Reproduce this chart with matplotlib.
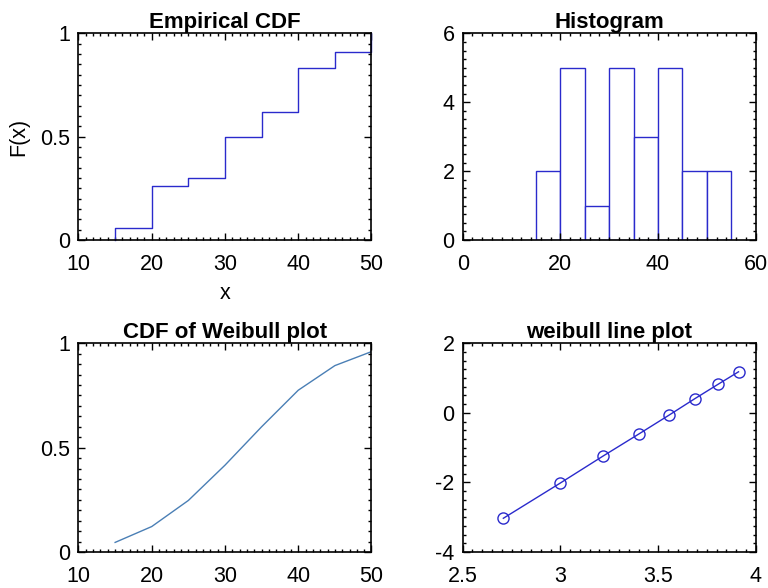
import matplotlib
matplotlib.use("Agg")
import matplotlib.pyplot as plt
from matplotlib.ticker import MultipleLocator

plt.rcParams['font.family'] = ['Liberation Sans', 'DejaVu Sans']
plt.rcParams['axes.unicode_minus'] = False

# Empirical CDF
ecdf_x = [15, 15, 20, 25, 30, 35, 40, 45, 50]
ecdf_F = [0.0, 0.06, 0.26, 0.30, 0.50, 0.62, 0.83, 0.91, 1.0]

# Histogram
hist_edges = [15, 20, 25, 30, 35, 40, 45, 50, 55]
hist_counts = [2, 5, 1, 5, 3, 5, 2, 2]

# CDF of Weibull
wcdf_x = [15, 20, 25, 30, 35, 40, 45, 50]
wcdf_F = [0.046, 0.122, 0.247, 0.416, 0.600, 0.775, 0.893, 0.960]

# Weibull line plot
wl_x = [2.708, 2.996, 3.219, 3.401, 3.555, 3.689, 3.807, 3.912]
wl_y = [-3.03, -2.03, -1.24, -0.61, -0.07, 0.41, 0.82, 1.18]

fig = plt.figure(figsize=(7.68, 5.88), dpi=100)

W = 0.3815
H = 0.3515
ax1 = fig.add_axes([0.1022, 0.5918, W, H])
ax2 = fig.add_axes([0.6025, 0.5918, W, H])
ax3 = fig.add_axes([0.1022, 0.0612, W, H + 0.0035])
ax4 = fig.add_axes([0.6025, 0.0612, W, H + 0.0035])

def style(ax, xmaj, xmin, ymaj, ymin):
    ax.xaxis.set_major_locator(MultipleLocator(xmaj))
    ax.xaxis.set_minor_locator(MultipleLocator(xmin))
    ax.yaxis.set_major_locator(MultipleLocator(ymaj))
    ax.yaxis.set_minor_locator(MultipleLocator(ymin))
    ax.tick_params(which='both', direction='in', top=True, right=True,
                   labelsize=15.5, color='black', width=1.0)
    ax.tick_params(which='major', length=5)
    ax.tick_params(which='minor', length=2.5)
    ax.tick_params(axis='x', which='major', pad=10)
    ax.tick_params(axis='y', which='major', pad=6)
    for s in ax.spines.values():
        s.set_linewidth(1.2)
        s.set_color('black')

blue = '#2a2acc'

# Empirical CDF
ax1.step(ecdf_x, ecdf_F, where='post', color=blue, lw=1.0, clip_on=False)
ax1.set_xlim(10, 50)
ax1.set_ylim(0, 1)
style(ax1, 10, 1, 0.5, 0.05)
ax1.set_yticks([0, 0.5, 1])
ax1.set_yticklabels(['0', '0.5', '1'])
ax1.set_title('Empirical CDF', fontsize=16, fontweight='bold', pad=4)
ax1.set_xlabel('x', fontsize=15.5, labelpad=6)
ax1.set_ylabel('F(x)', fontsize=15.5, labelpad=8)

# Histogram
ax2.hist(hist_edges[:-1], bins=hist_edges, weights=hist_counts,
         histtype='bar', facecolor='white', edgecolor=blue, linewidth=1.0)
ax2.set_xlim(0, 60)
ax2.set_ylim(0, 6)
style(ax2, 20, 2, 2, 0.25)
ax2.set_title('Histogram', fontsize=16, fontweight='bold', pad=4)

# CDF of Weibull
ax3.plot(wcdf_x, wcdf_F, color='#4a7fb5', lw=1.0)
ax3.set_xlim(10, 50)
ax3.set_ylim(0, 1)
style(ax3, 10, 1, 0.5, 0.05)
ax3.set_yticks([0, 0.5, 1])
ax3.set_yticklabels(['0', '0.5', '1'])
ax3.set_title('CDF of Weibull plot', fontsize=16, fontweight='bold', pad=4)

# Weibull line plot
ax4.plot(wl_x, wl_y, color=blue, lw=1.0, marker='o', markersize=8,
         markerfacecolor='none', markeredgecolor=blue, markeredgewidth=1.0)
ax4.set_xlim(2.5, 4)
ax4.set_ylim(-4, 2)
style(ax4, 0.5, 0.05, 2, 0.25)
ax4.set_xticks([2.5, 3, 3.5, 4])
ax4.set_xticklabels(['2.5', '3', '3.5', '4'])
ax4.set_title('weibull line plot', fontsize=16, fontweight='bold', pad=4)

fig.savefig('out.png', dpi=100)
